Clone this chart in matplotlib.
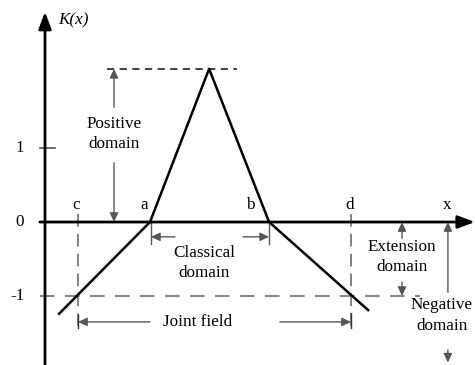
import matplotlib
matplotlib.use("Agg")
import matplotlib.pyplot as plt

plt.rcParams['font.family'] = ['Liberation Serif', 'DejaVu Serif']

# Piecewise-linear dependent function K(x)
curve_x = [0.47, 3.5, 5.47, 7.47, 10.77]
curve_k = [-1.24, 0.0, 2.07, 0.0, -1.19]

# Named interval points on the x axis
point_names = ['c', 'a', 'b', 'd']
point_x = [1.1, 3.5, 7.47, 10.2]
label_x = [1.03, 3.3, 6.83, 10.17]

y_ticks = [1, 0, -1]
y_tick_labels = ['1', '0', '-1']
peak_k = 2.07

fig = plt.figure(figsize=(4.75, 3.65), dpi=100)
ax = fig.add_axes([0, 0, 1, 1])
ax.set_xlim(-1.5, 14.333)
ax.set_ylim(-1.932, 3.0)
ax.axis('off')

FS = 12.3
LS = 1.3

def arrow(x0, y0, x1, y1, color='#555555', lw=1.0, ms=9, hl=0.6, hw=0.28):
    ax.annotate('', xy=(x1, y1), xytext=(x0, y0),
                arrowprops=dict(arrowstyle=f'-|>,head_length={hl},head_width={hw}',
                                color=color, lw=lw, mutation_scale=ms,
                                shrinkA=0, shrinkB=0))

# main axes
arrow(-0.17, 0, 14.33, 0, color='black', lw=2.0, ms=12, hl=0.85, hw=0.32)
arrow(0, -1.932, 0, 2.84, color='black', lw=2.0, ms=12, hl=0.85, hw=0.32)

# y tick marks & labels
ax.plot([-0.17, 0.33], [1, 1], color='#555555', lw=1.2)
for v, s in zip(y_ticks, y_tick_labels):
    ax.text(-0.83 if s != '-1' else -0.9, v, s, ha='center', va='center', fontsize=FS)

ax.text(0.95, 2.73, 'K(x)', ha='center', va='center', fontsize=FS, style='italic')
ax.text(13.4, 0.23, 'x', ha='center', va='center', fontsize=FS)
for name, lx in zip(point_names, label_x):
    ax.text(lx, 0.23, name, ha='center', va='center', fontsize=FS)

# dashed guide lines
ax.plot([2.07, 6.4], [peak_k, peak_k], color='#333333', lw=1.3, dashes=(4, 3))
ax.plot([-0.17, 12.5], [-1, -1], color='#888888', lw=1.5, dashes=(7, 5))
for px in (point_x[0], point_x[3]):
    ax.plot([px, px], [0.11, -1.43], color='#777777', lw=1.3, dashes=(7, 4))

# curve
ax.plot(curve_x, curve_k, color='black', lw=1.8)

# Positive domain
arrow(2.3, 1.55, 2.3, peak_k)
arrow(2.3, 0.80, 2.3, 0.0)
ax.text(2.3, 1.19, 'Positive\ndomain', ha='center', va='center', fontsize=FS, linespacing=LS)

# Classical domain
ax.plot([point_x[1] + 0.03, point_x[1] + 0.03], [0.0, -0.3], color='#555555', lw=1.0)
ax.plot([point_x[2], point_x[2]], [0.0, -0.3], color='#555555', lw=1.0)
arrow(4.33, -0.2, point_x[1] + 0.03, -0.2)
arrow(6.6, -0.2, point_x[2], -0.2)
ax.text(5.3, -0.55, 'Classical\ndomain', ha='center', va='center', fontsize=FS, linespacing=LS)

# Joint field
ax.plot([point_x[0], point_x[0]], [-1.25, -1.43], color='#333333', lw=1.0)
ax.plot([point_x[3], point_x[3]], [-1.23, -1.43], color='#333333', lw=1.0)
arrow(3.5, -1.35, point_x[0], -1.35)
arrow(7.83, -1.35, point_x[3], -1.35)
ax.text(5.1, -1.35, 'Joint field', ha='center', va='center', fontsize=FS)

# Extension domain
arrow(11.9, -0.22, 11.9, 0.0)
arrow(11.9, -0.81, 11.9, -1.0)
ax.text(11.9, -0.47, 'Extension\ndomain', ha='center', va='center', fontsize=FS, linespacing=LS)

# Negative domain
arrow(13.43, -0.95, 13.43, 0.0)
arrow(13.43, -1.73, 13.43, -1.9)
ax.text(13.22, -1.26, 'Negative\ndomain', ha='center', va='center', fontsize=FS, linespacing=1.4)

fig.savefig('out.png', dpi=100)
